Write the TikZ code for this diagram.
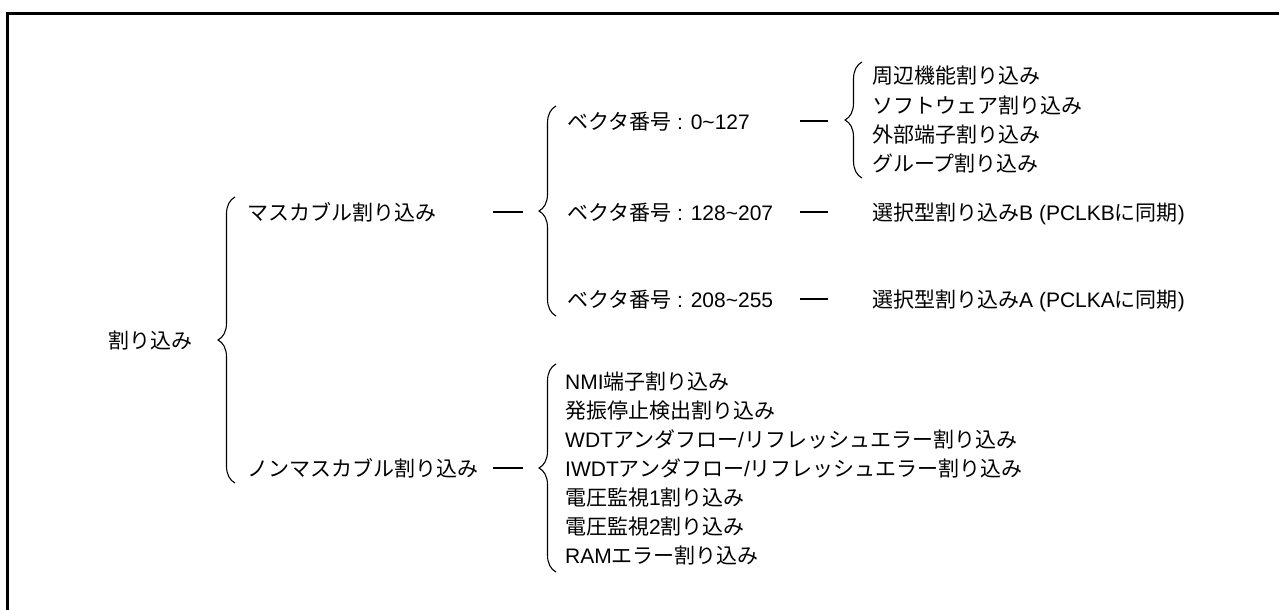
\documentclass[tikz,border=0pt]{standalone}
\usepackage{fontspec}
\setmainfont{Liberation Sans}
\newfontfamily\jp{Noto Sans CJK JP}
\usetikzlibrary{decorations.pathreplacing,positioning}
\tikzset{
  item/.style={anchor=west, inner sep=0pt, text height=17pt, text depth=1pt,
               font=\fontsize{21}{25}\selectfont},
  link/.style={line width=1.1pt},
  bracket/.style={decorate, decoration={brace, mirror, amplitude=17pt}, line width=1.1pt},
  frame/.style={line width=3pt}
}

\begin{document}
\begin{tikzpicture}[x=1pt,y=-1pt]
  \useasboundingbox (0,0) rectangle (1279,610);
  % frame
  \draw[frame] (7.5,610) -- (7.5,13.5) -- (1279,13.5);

  % root and first level
  \node[item] (root) at (108,340) {\jp 割り込み};
  \node[item] (mask) at (247,212) {\jp マスカブル割り込み};
  \node[item] (nonmask) at (247,468) {\jp ノンマスカブル割り込み};

  % vector ranges
  \node[item] (vecA) at (567,121) {{\jp ベクタ番号} : 0\textasciitilde127};
  \node[item] (vecB) at (567,212) {{\jp ベクタ番号} : 128\textasciitilde207};
  \node[item] (vecC) at (567,299) {{\jp ベクタ番号} : 208\textasciitilde255};

  % sources of vectors 0-127
  \node[item] (periph) at (872,76)  {\jp 周辺機能割り込み};
  \node[item] (soft)   at (872,105) {\jp ソフトウェア割り込み};
  \node[item] (extpin) at (872,134) {\jp 外部端子割り込み};
  \node[item] (group)  at (872,163) {\jp グループ割り込み};

  \node[item] (selB) at (872,212) {{\jp 選択型割り込み}B (PCLKB{\jp に同期})};
  \node[item] (selA) at (872,299) {{\jp 選択型割り込み}A (PCLKA{\jp に同期})};

  % non-maskable sources
  \node[item] (nmi)   at (565,381) {NMI{\jp 端子割り込み}};
  \node[item] (osc)   at (565,410) {\jp 発振停止検出割り込み};
  \node[item] (wdt)   at (565,439) {WDT{\jp アンダフロー}/{\jp リフレッシュエラー割り込み}};
  \node[item] (iwdt)  at (565,468) {IWDT{\jp アンダフロー}/{\jp リフレッシュエラー割り込み}};
  \node[item] (lvdA)  at (565,497) {{\jp 電圧監視}1{\jp 割り込み}};
  \node[item] (lvdB)  at (565,526) {{\jp 電圧監視}2{\jp 割り込み}};
  \node[item] (ramerr) at (565,555) {RAM{\jp エラー割り込み}};

  % brace ends
  \coordinate (rootTop) at (235,197);
  \coordinate (rootBot) at (235,483);
  \coordinate (vecTop) at (556,106);
  \coordinate (vecBot) at (556,316);
  \coordinate (subTop) at (862,62);
  \coordinate (subBot) at (862,178);
  \coordinate (nmTop) at (556,364);
  \coordinate (nmBot) at (556,572);

  \draw[bracket] (rootTop) -- (rootBot);
  \draw[bracket] (vecTop) -- (vecBot);
  \draw[bracket] (subTop) -- (subBot);
  \draw[bracket] (nmTop) -- (nmBot);

  % short dashes
  \coordinate (dashAs) at (493,0);
  \coordinate (dashAe) at (523,0);
  \coordinate (dashBs) at (800,0);
  \coordinate (dashBe) at (828,0);
  \draw[link] (dashAs |- mask) -- (dashAe |- mask);
  \draw[link] (dashAs |- nonmask) -- (dashAe |- nonmask);
  \draw[link] (dashBs |- vecA) -- (dashBe |- vecA);
  \draw[link] (dashBs |- vecB) -- (dashBe |- vecB);
  \draw[link] (dashBs |- vecC) -- (dashBe |- vecC);
\end{tikzpicture}
\end{document}
